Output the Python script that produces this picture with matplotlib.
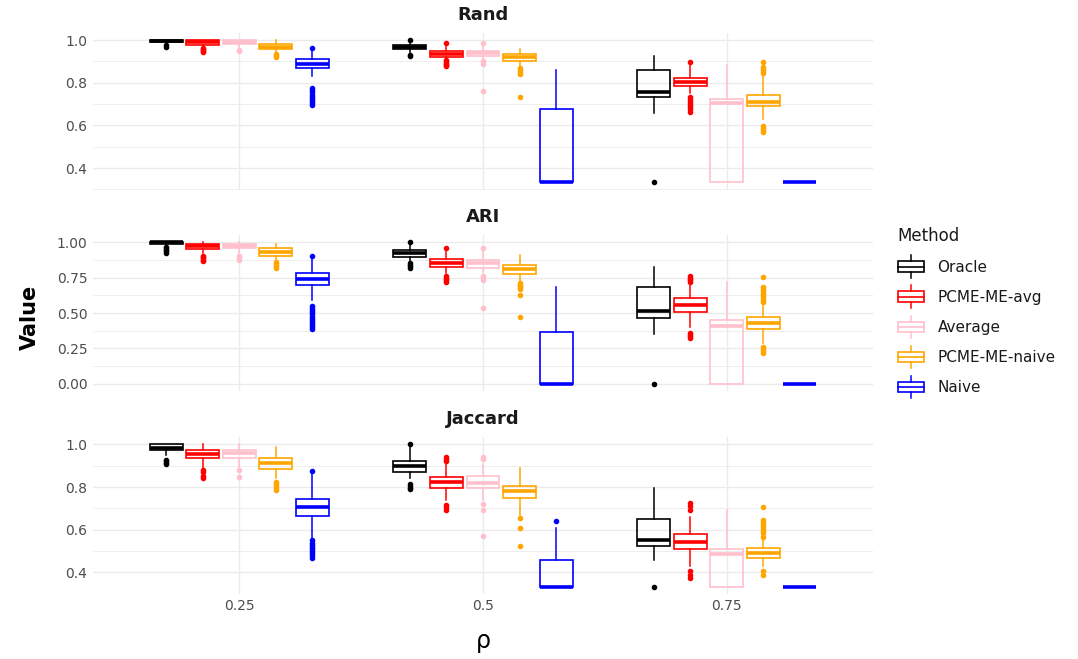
import matplotlib
matplotlib.use("Agg")
import matplotlib.pyplot as plt
from matplotlib.legend_handler import HandlerBase
from matplotlib.patches import Rectangle
from matplotlib.lines import Line2D

methods = ["Oracle", "PCME-ME-avg", "Average", "PCME-ME-naive", "Naive"]
colors = ["#000000", "#FF0000", "#FFC0CB", "#FFA500", "#0000FF"]
rho_labels = ["0.25", "0.5", "0.75"]

# ---------------- Rand ----------------
rand_q1 = [[0.990, 0.960, 0.735], [0.978, 0.922, 0.785], [0.980, 0.925, 0.333], [0.958, 0.904, 0.690], [0.868, 0.333, 0.333]]
rand_med = [[0.996, 0.970, 0.755], [0.990, 0.935, 0.803], [0.990, 0.940, 0.705], [0.970, 0.920, 0.710], [0.888, 0.333, 0.333]]
rand_q3 = [[1.000, 0.977, 0.860], [1.000, 0.950, 0.822], [1.000, 0.950, 0.725], [0.981, 0.935, 0.744], [0.910, 0.678, 0.333]]
rand_lo = [[0.985, 0.940, 0.660], [0.970, 0.910, 0.750], [0.965, 0.910, 0.333], [0.940, 0.880, 0.630], [0.830, 0.333, 0.333]]
rand_hi = [[1.000, 0.990, 0.925], [1.000, 0.975, 0.885], [1.000, 0.975, 0.884], [1.000, 0.960, 0.830], [0.950, 0.860, 0.333]]
rand_fl = [
    [[0.975, 0.970], [1.0, 0.93, 0.925], [0.333]],
    [[0.962, 0.958, 0.954, 0.950, 0.946], [0.985, 0.905, 0.900, 0.895, 0.890, 0.885, 0.878],
     [0.896, 0.735, 0.725, 0.715, 0.705, 0.695, 0.685, 0.675, 0.665]],
    [[0.955, 0.950], [0.985, 0.900, 0.890, 0.763], []],
    [[0.935, 0.930, 0.925, 0.920], [0.870, 0.860, 0.850, 0.840, 0.732],
     [0.896, 0.875, 0.865, 0.855, 0.845, 0.597, 0.590, 0.580, 0.570]],
    [[0.961, 0.775, 0.765, 0.755, 0.745, 0.735, 0.725, 0.715, 0.705, 0.695], [], []],
]

# ---------------- ARI ----------------
ari_q1 = [[0.985, 0.897, 0.467], [0.951, 0.822, 0.505], [0.955, 0.820, 0.000], [0.904, 0.775, 0.385], [0.697, 0.000, 0.000]]
ari_med = [[1.000, 0.920, 0.514], [0.970, 0.850, 0.556], [0.975, 0.855, 0.410], [0.930, 0.810, 0.427], [0.740, 0.000, 0.000]]
ari_q3 = [[1.000, 0.944, 0.685], [0.986, 0.878, 0.603], [0.985, 0.875, 0.450], [0.955, 0.838, 0.470], [0.780, 0.364, 0.000]]
ari_lo = [[0.975, 0.870, 0.350], [0.920, 0.785, 0.400], [0.920, 0.790, 0.000], [0.870, 0.720, 0.290], [0.590, 0.000, 0.000]]
ari_hi = [[1.000, 0.990, 0.826], [1.000, 0.940, 0.700], [1.000, 0.940, 0.720], [0.990, 0.908, 0.600], [0.880, 0.685, 0.000]]
ari_fl = [
    [[0.965, 0.955, 0.945, 0.935, 0.925], [1.0, 0.850, 0.840, 0.830, 0.820], [0.0]],
    [[0.905, 0.895, 0.885, 0.875, 0.865], [0.955, 0.760, 0.750, 0.740, 0.730, 0.720],
     [0.760, 0.750, 0.740, 0.730, 0.720, 0.357, 0.345, 0.335, 0.325]],
    [[0.905, 0.890, 0.875], [0.955, 0.760, 0.745, 0.730, 0.533], []],
    [[0.860, 0.850, 0.840, 0.830, 0.815], [0.710, 0.700, 0.690, 0.680, 0.670, 0.627, 0.470],
     [0.756, 0.685, 0.670, 0.655, 0.640, 0.625, 0.610, 0.595, 0.580, 0.260, 0.245, 0.230, 0.216]],
    [[0.900, 0.550, 0.535, 0.520, 0.505, 0.490, 0.475, 0.460, 0.445, 0.430, 0.415, 0.400, 0.385], [], []],
]

# ---------------- Jaccard ----------------
jac_q1 = [[0.973, 0.872, 0.522], [0.935, 0.795, 0.511], [0.935, 0.795, 0.333], [0.885, 0.748, 0.467], [0.662, 0.333, 0.333]]
jac_med = [[0.985, 0.900, 0.553], [0.955, 0.825, 0.542], [0.960, 0.820, 0.488], [0.914, 0.780, 0.490], [0.705, 0.333, 0.333]]
jac_q3 = [[1.000, 0.923, 0.651], [0.973, 0.849, 0.580], [0.973, 0.850, 0.510], [0.937, 0.805, 0.514], [0.743, 0.456, 0.333]]
jac_lo = [[0.950, 0.840, 0.460], [0.890, 0.740, 0.430], [0.890, 0.740, 0.333], [0.840, 0.670, 0.430], [0.560, 0.333, 0.333]]
jac_hi = [[1.000, 0.990, 0.797], [1.000, 0.910, 0.660], [1.000, 0.910, 0.693], [0.986, 0.888, 0.600], [0.860, 0.610, 0.333]]
jac_fl = [
    [[0.927, 0.920, 0.913, 0.907], [1.0, 0.815, 0.805, 0.795, 0.790], [0.333]],
    [[0.880, 0.870, 0.850, 0.840], [0.942, 0.930, 0.920, 0.716, 0.705, 0.693], [0.724, 0.710, 0.693, 0.405, 0.390, 0.374]],
    [[0.880, 0.845], [0.940, 0.930, 0.720, 0.690, 0.572], []],
    [[0.825, 0.815, 0.805, 0.795, 0.786], [0.654, 0.607, 0.525],
     [0.708, 0.646, 0.635, 0.625, 0.615, 0.605, 0.595, 0.585, 0.568, 0.405, 0.390]],
    [[0.875, 0.553, 0.540, 0.530, 0.520, 0.510, 0.500, 0.490, 0.480, 0.467], [0.643], []],
]

panels = [
    ("Rand", rand_q1, rand_med, rand_q3, rand_lo, rand_hi, rand_fl,
     [0.4, 0.6, 0.8, 1.0], ["0.4", "0.6", "0.8", "1.0"], [0.3, 0.5, 0.7, 0.9], (0.2997, 1.0333)),
    ("ARI", ari_q1, ari_med, ari_q3, ari_lo, ari_hi, ari_fl,
     [0.0, 0.25, 0.5, 0.75, 1.0], ["0.00", "0.25", "0.50", "0.75", "1.00"],
     [0.125, 0.375, 0.625, 0.875], (-0.05, 1.05)),
    ("Jaccard", jac_q1, jac_med, jac_q3, jac_lo, jac_hi, jac_fl,
     [0.4, 0.6, 0.8, 1.0], ["0.4", "0.6", "0.8", "1.0"], [0.3, 0.5, 0.7, 0.9], (0.2997, 1.0333)),
]

W, H = 1078, 659
fig = plt.figure(figsize=(W / 100, H / 100), dpi=100)
fig.patch.set_facecolor("white")

left_px, right_px = 93, 873
panel_px = [(33, 189.5), (235, 391), (437.2, 593.8)]
grid_col = "#EBEBEB"
axes = []
for k, (title, q1, med, q3, lo, hi, fl, yt, ytl, ymin, ylim) in enumerate(panels):
    top, bot = panel_px[k]
    ax = fig.add_axes([left_px / W, 1 - bot / H, (right_px - left_px) / W, (bot - top) / H])
    axes.append(ax)
    for sp in ax.spines.values():
        sp.set_visible(False)
    ax.set_facecolor("white")
    ax.set_xlim(0.4, 3.6)
    ax.set_ylim(*ylim)
    ax.set_yticks(yt)
    ax.set_yticklabels(ytl)
    ax.set_yticks(ymin, minor=True)
    ax.set_xticks([1, 2, 3])
    ax.tick_params(axis="both", which="both", length=0, labelsize=10, labelcolor="#4D4D4D", pad=4)
    if k < 2:
        ax.set_xticklabels([])
    else:
        ax.set_xticklabels(rho_labels)
    ax.grid(True, which="major", color=grid_col, lw=1.0)
    ax.grid(True, which="minor", axis="y", color=grid_col, lw=0.6)
    ax.set_axisbelow(True)
    ax.set_title(title, fontsize=13, fontweight="bold", color="#1A1A1A", pad=9.5)

    for i, m in enumerate(methods):
        c = colors[i]
        stats = []
        for j in range(3):
            stats.append(dict(q1=q1[i][j], med=med[i][j], q3=q3[i][j],
                              whislo=lo[i][j], whishi=hi[i][j], fliers=fl[i][j], label=m))
        pos = [j + 1 + (i - 2) * 0.15 for j in range(3)]
        ax.bxp(stats, positions=pos, widths=0.135, showcaps=False, showfliers=True,
               patch_artist=True, manage_ticks=False,
               boxprops=dict(facecolor="none", edgecolor=c, lw=1.2),
               medianprops=dict(color=c, lw=2.6, solid_capstyle="butt"),
               whiskerprops=dict(color=c, lw=1.1),
               flierprops=dict(marker="o", markersize=3.0, markerfacecolor=c,
                               markeredgecolor=c, linestyle="none"))

fig.text(30 / W, 1 - 317 / H, "Value", rotation=90, ha="center", va="center",
         fontsize=15, fontweight="bold", color="#000000")
fig.text(483 / W, 1 - 641 / H, "ρ", ha="center", va="center", fontsize=17, color="#000000")


class BoxHandler(HandlerBase):
    def create_artists(self, legend, orig_handle, xdescent, ydescent, width, height, fontsize, trans):
        c = orig_handle.get_color()
        x0 = -xdescent
        w = width
        bh = height * 0.62
        y0 = -ydescent + (height - bh) / 2
        r = Rectangle((x0, y0), w, bh, facecolor="white", edgecolor=c, lw=1.2, transform=trans)
        m = Line2D([x0, x0 + w], [y0 + bh / 2] * 2, color=c, lw=1.2, transform=trans)
        cx = x0 + w / 2
        wt = Line2D([cx, cx], [y0 + bh, y0 + bh + height * 0.36], color=c, lw=1.1, transform=trans)
        wb = Line2D([cx, cx], [y0, y0 - height * 0.36], color=c, lw=1.1, transform=trans)
        return [r, m, wt, wb]


handles = [Line2D([], [], color=c) for c in colors]
leg = fig.legend(handles, methods, loc="upper left", bbox_to_anchor=(884 / W, 1 - 213 / H),
                 title="Method", frameon=False, fontsize=11, title_fontsize=12,
                 handler_map={Line2D: BoxHandler()}, handlelength=1.7, handleheight=1.3,
                 labelspacing=0.88, handletextpad=0.9, alignment="left")
leg.get_title().set_color("#1A1A1A")
for t in leg.get_texts():
    t.set_color("#1A1A1A")

fig.savefig("out.png", dpi=100)
